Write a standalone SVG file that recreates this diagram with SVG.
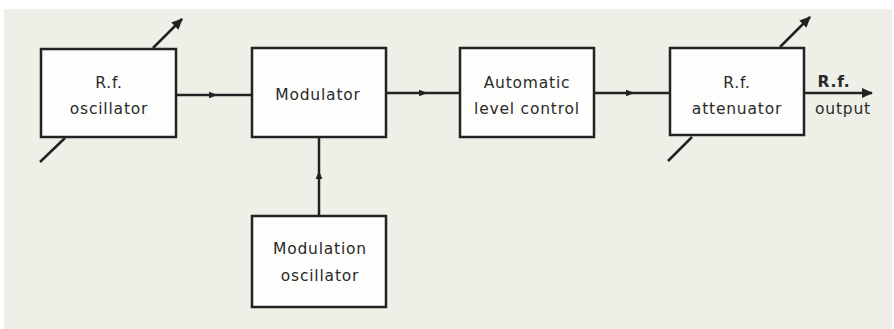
<svg xmlns="http://www.w3.org/2000/svg" width="894" height="329" viewBox="0 0 894 329">
<style>
.box{fill:#fdfdfb;stroke:#222;stroke-width:2.5}
.ln{fill:none;stroke:#222;stroke-width:2.5}
.t{font-family:"DejaVu Sans","Liberation Sans",sans-serif;font-size:15.5px;fill:#2a2a2a;text-anchor:middle;letter-spacing:0.8px}
</style>
<defs>
<marker id="ah" viewBox="0 0 10 10" refX="5" refY="5" markerWidth="3.5" markerHeight="3.5" orient="auto"><path d="M0,1 L10,5 L0,9 Z" fill="#222"/></marker>
<marker id="ahE" viewBox="0 0 10 10" refX="9" refY="5" markerWidth="4.5" markerHeight="4.5" orient="auto"><path d="M0,0.5 L10,5 L0,9.5 Z" fill="#222"/></marker>
</defs>
<rect x="0" y="0" width="894" height="329" fill="#ffffff"/>
<rect x="4" y="9" width="888" height="320" fill="#efefe8"/>
<g id="connectors">
<path class="ln" d="M176,95 L213,95" marker-end="url(#ah)"/>
<path class="ln" d="M211,95 L252,95"/>
<path class="ln" d="M386,93 L423,93" marker-end="url(#ah)"/>
<path class="ln" d="M421,93 L460,93"/>
<path class="ln" d="M594,93 L630,93" marker-end="url(#ah)"/>
<path class="ln" d="M628,93 L670,93"/>
<path class="ln" d="M319,216 L319,175" marker-end="url(#ah)"/>
<path class="ln" d="M319,177 L319,137"/>
<path class="ln" d="M804,93 L872,93" marker-end="url(#ahE)"/>
<path class="ln" d="M153,48 L182,19" marker-end="url(#ahE)"/>
<path class="ln" d="M65,138 L40,162"/>
<path class="ln" d="M780,47 L810,17" marker-end="url(#ahE)"/>
<path class="ln" d="M692,137 L668,161"/>
</g>
<g id="rf-oscillator">
<rect class="box" x="41" y="49" width="135" height="88"/>
<text class="t" x="109" y="88">R.f.</text>
<text class="t" x="109" y="114">oscillator</text>
</g>
<g id="modulator">
<rect class="box" x="252" y="48" width="134" height="89"/>
<text class="t" x="318" y="100">Modulator</text>
</g>
<g id="alc">
<rect class="box" x="460" y="48" width="134" height="89"/>
<text class="t" x="527" y="88">Automatic</text>
<text class="t" x="527" y="114">level control</text>
</g>
<g id="rf-attenuator">
<rect class="box" x="670" y="48" width="134" height="87"/>
<text class="t" x="737" y="88">R.f.</text>
<text class="t" x="737" y="114">attenuator</text>
</g>
<g id="output-label">
<text class="t" x="834" y="87" style="font-weight:bold">R.f.</text>
<text class="t" x="843" y="114">output</text>
</g>
<g id="modulation-oscillator">
<rect class="box" x="252" y="216" width="134" height="91"/>
<text class="t" x="320" y="254">Modulation</text>
<text class="t" x="320" y="281">oscillator</text>
</g>
</svg>
